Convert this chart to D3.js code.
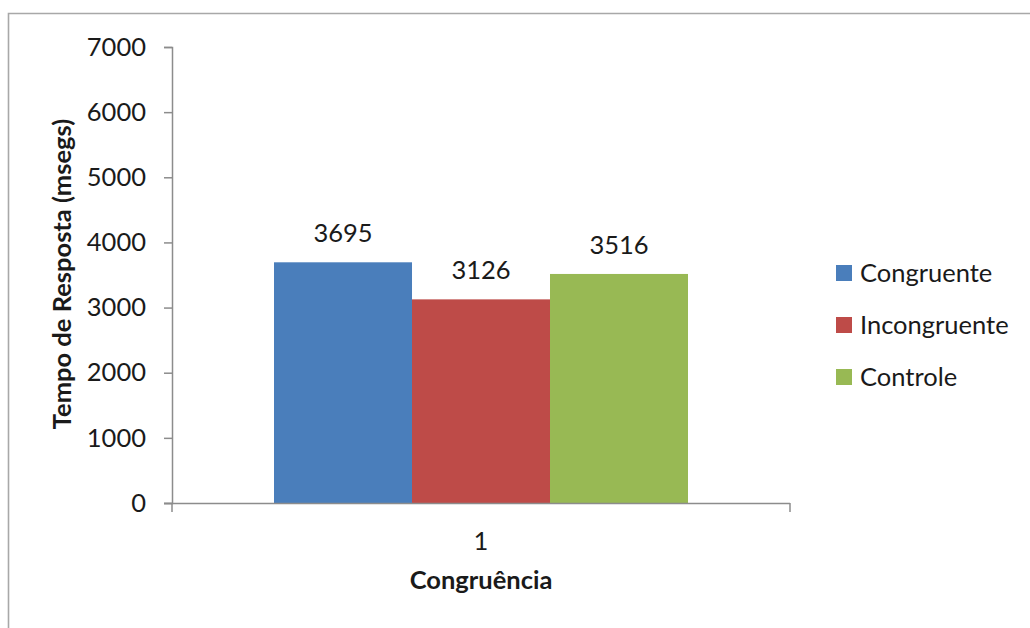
<!DOCTYPE html>
<html>
<head>
<meta charset="utf-8">
<script src="https://cdn.jsdelivr.net/npm/d3@7"></script>
<style>
  html, body { margin: 0; padding: 0; background: #fff; }
  svg { display: block; }
  text { font-family: Lato, "Open Sans", sans-serif; fill: #1a1a1a; }
</style>
</head>
<body>
<svg id="chart" width="1030" height="628"></svg>
<script>
// ---- data ----
const categories = ["1"];
const seriesNames = ["Congruente", "Incongruente", "Controle"];
const seriesValues = [3695, 3126, 3516];
const seriesColors = ["#4A7EBB", "#BE4B48", "#98B954"];
const yTicks = [0, 1000, 2000, 3000, 4000, 5000, 6000, 7000];
const yTitle = "Tempo de Resposta (msegs)";
const xTitle = "Congruência";

(function () {
const svg = d3.select("#chart");
const W = 1030, H = 628;
const mLeft = 172, mRight = 790, mTop = 47, mBottom = 503;
const axisColor = "#8c8c8c";
const fs = 25.5;

// outer frame (top and left edges visible)
svg.append("path")
  .attr("d", `M8.5,${H} L8.5,13.5 L${W},13.5`)
  .attr("fill", "none").attr("stroke", "#a8a8a8").attr("stroke-width", 1.6);

const y = d3.scaleLinear().domain([0, 7000]).range([mBottom, mTop]);
const x0 = d3.scaleBand().domain(categories).range([mLeft, mRight]).paddingInner(0).paddingOuter(0.2464);
const x1 = d3.scaleBand().domain(seriesNames).range([0, x0.bandwidth()]).padding(0);

// y axis
const yAxis = svg.append("g").attr("transform", `translate(${mLeft},0)`)
  .call(d3.axisLeft(y).tickValues(yTicks).tickSize(8).tickPadding(18).tickFormat(d3.format("d")));
yAxis.select(".domain").attr("stroke", axisColor).attr("stroke-width", 1.5);
yAxis.selectAll(".tick line").attr("stroke", axisColor).attr("stroke-width", 1.5);
yAxis.selectAll(".tick text").attr("font-size", fs).attr("fill", "#1a1a1a")
  .style("font-family", "Lato, 'Open Sans', sans-serif");

// bars
const g = svg.append("g");
categories.forEach(cat => {
  seriesNames.forEach((s, i) => {
    const xPos = x0(cat) + x1(s);
    g.append("rect")
      .attr("x", xPos).attr("width", x1.bandwidth())
      .attr("y", y(seriesValues[i])).attr("height", y(0) - y(seriesValues[i]))
      .attr("fill", seriesColors[i]);
    g.append("text")
      .attr("x", xPos + x1.bandwidth() / 2)
      .attr("y", y(seriesValues[i]) - 20)
      .attr("text-anchor", "middle").attr("font-size", fs)
      .text(seriesValues[i]);
  });
});

// x axis (Excel style: ticks at category boundaries)
const [r0, r1] = x0.range();
svg.append("line").attr("x1", r0 - 8).attr("x2", r1).attr("y1", mBottom + 0.5).attr("y2", mBottom + 0.5)
  .attr("stroke", axisColor).attr("stroke-width", 1.5);
[r0, r1].forEach(v => {
  svg.append("line").attr("x1", v).attr("x2", v).attr("y1", mBottom).attr("y2", mBottom + 9)
    .attr("stroke", axisColor).attr("stroke-width", 1.5);
});
categories.forEach(cat => {
  svg.append("text").attr("x", x0(cat) + x0.bandwidth() / 2).attr("y", 550)
    .attr("text-anchor", "middle").attr("font-size", fs).text(cat);
});

// axis titles
svg.append("text").attr("x", (r0 + r1) / 2).attr("y", 589)
  .attr("text-anchor", "middle").attr("font-size", 25.5).attr("font-weight", "bold").text(xTitle);
svg.append("text").attr("transform", `translate(71,274) rotate(-90)`)
  .attr("text-anchor", "middle").attr("font-size", 25.5).attr("font-weight", "bold").text(yTitle);

// legend
const leg = svg.append("g");
seriesNames.forEach((s, i) => {
  const cy = 273 + i * 52;
  leg.append("rect").attr("x", 836).attr("y", cy - 8).attr("width", 16).attr("height", 16)
    .attr("fill", seriesColors[i]);
  leg.append("text").attr("x", 860).attr("y", cy + 9).attr("font-size", fs).text(s);
});
})();
</script>
</body>
</html>
